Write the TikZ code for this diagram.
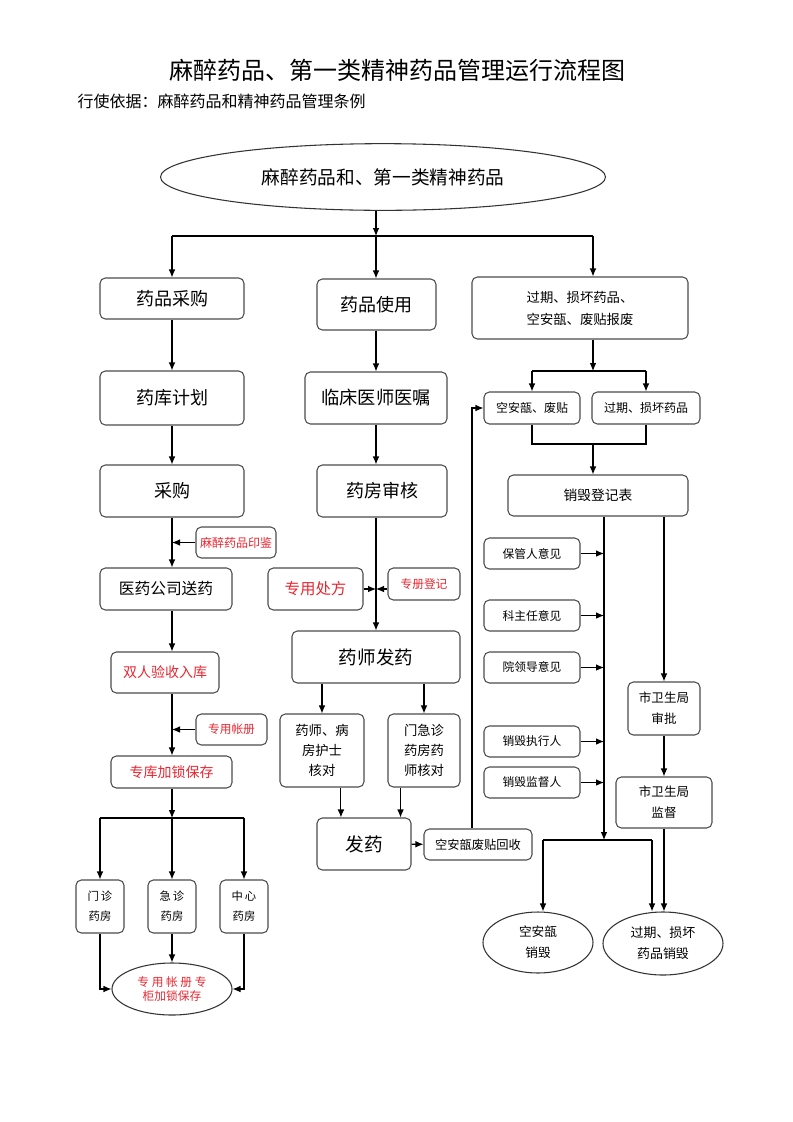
\documentclass[tikz,border=0pt]{standalone}
\usepackage{fontspec}
\setmainfont{Noto Sans CJK SC}
\usetikzlibrary{shapes.geometric,arrows.meta}
\definecolor{warnRed}{RGB}{232,38,48}
\tikzset{
  box/.style={draw=black!70, line width=0.8pt, rounded corners=4pt, align=center, inner sep=1pt},
  oval/.style={draw=black!80, line width=0.8pt, ellipse, align=center, inner sep=0pt},
  arrow/.style={-{Latex[length=6pt,width=5pt]}, line width=0.8pt},
  link/.style={line width=0.8pt},
  redtext/.style={text=warnRed},
  fs/.style 2 args={font=\fontsize{#1}{#2}\selectfont},
}
\begin{document}
\begin{tikzpicture}[x=0.75pt, y=-0.75pt]
        \useasboundingbox (0,0) rectangle (793,1122);

        % Title
        \node[fs={18}{22}] (title) at (397,70) {麻醉药品、第一类精神药品管理运行流程图};
        \node[anchor=west, fs={12}{14}] (basis) at (73,101) {行使依据：麻醉药品和精神药品管理条例};

        % Start
        \node[oval, fs={14}{16}, minimum width=333.75pt, minimum height=50pt] (source) at (383,177) {麻醉药品和、第一类精神药品};

        % Purchase column
        \node[box, fs={13.5}{16}, minimum width=108pt, minimum height=30.75pt] (buyDrug) at (172,298.5) {药品采购};
        \node[box, fs={13.5}{16}, minimum width=108pt, minimum height=40.5pt] (plan) at (172,398) {药库计划};
        \node[box, fs={13.5}{16}, minimum width=108pt, minimum height=39pt] (buy) at (172,491) {采购};
        \node[box, redtext, fs={9}{11}, minimum width=60pt, minimum height=23.25pt] (seal) at (236,542.5) {麻醉药品印鉴};
        \node[box, fs={11.8}{14}, minimum width=99pt, minimum height=31.5pt] (deliver) at (166,589) {医药公司送药};
        \node[box, redtext, fs={10.5}{13}, minimum width=81pt, minimum height=30.75pt] (accept) at (165,672.5) {双人验收入库};
        \node[box, redtext, fs={8.8}{11}, minimum width=53.25pt, minimum height=23.25pt] (ledger) at (231.5,729.5) {专用帐册};
        \node[box, redtext, fs={10.5}{13}, minimum width=90.75pt, minimum height=24pt] (store) at (171.5,772) {专库加锁保存};

        % Pharmacies
        \node[box, fs={8.5}{15}, minimum width=36pt, minimum height=39.75pt] (clinic) at (100,906.5) {门\,诊\\药房};
        \node[box, fs={8.5}{15}, minimum width=36pt, minimum height=39.75pt] (emerg) at (172,906.5) {急\,诊\\药房};
        \node[box, fs={8.5}{15}, minimum width=36pt, minimum height=39.75pt] (central) at (244,906.5) {中\,心\\药房};
        \node[oval, redtext, fs={8.8}{10.5}, minimum width=90pt, minimum height=39pt] (safe) at (172,989) {专\ 用\ 帐\ 册\ 专\\柜加锁保存};

        % Use column
        \node[box, fs={13.5}{16}, minimum width=89.25pt, minimum height=38.25pt] (useDrug) at (376.5,304.5) {药品使用};
        \node[box, fs={13.7}{16}, minimum width=106.5pt, minimum height=39pt] (order) at (376,398) {临床医师医嘱};
        \node[box, fs={13.5}{16}, minimum width=97.5pt, minimum height=39pt] (check) at (382,491) {药房审核};
        \node[box, redtext, fs={11.6}{14}, minimum width=71.25pt, minimum height=31.5pt] (rx) at (315.5,589) {专用处方};
        \node[box, redtext, fs={8.8}{11}, minimum width=54pt, minimum height=24pt] (reg) at (424,584) {专册登记};
        \node[box, fs={13.9}{16}, minimum width=126pt, minimum height=39pt] (dispense) at (376,657) {药师发药};
        \node[box, fs={10}{15}, minimum width=63pt, minimum height=54.75pt] (nurse) at (322,750.5) {药师、病\\房护士\\核对};
        \node[box, fs={10}{15}, minimum width=54pt, minimum height=54.75pt] (outCheck) at (424,750.5) {门急诊\\药房药\\师核对};
        \node[box, fs={14}{16}, minimum width=70.5pt, minimum height=39pt] (give) at (364,844) {发药};
        \node[box, fs={9.2}{11}, minimum width=81pt, minimum height=23.25pt] (recycle) at (478,844.5) {空安瓿废贴回收};

        % Scrap column
        \node[box, fs={10}{16.5}, minimum width=162pt, minimum height=46.5pt] (scrapDrug) at (580,308) {过期、损坏药品、\\空安瓿、废贴报废};
        \node[box, fs={9}{11}, minimum width=72pt, minimum height=24pt] (ampoule) at (532,408) {空安瓿、废贴};
        \node[box, fs={9}{11}, minimum width=81pt, minimum height=24pt] (expired) at (646,408) {过期、损坏药品};
        \node[box, fs={10.3}{12}, minimum width=135pt, minimum height=30.75pt] (destroyForm) at (598,495.5) {销毁登记表};
        \node[box, fs={8.8}{11}, minimum width=72pt, minimum height=23.25pt] (keeper) at (532,553.5) {保管人意见};
        \node[box, fs={8.8}{11}, minimum width=72pt, minimum height=23.25pt] (director) at (532,615.5) {科主任意见};
        \node[box, fs={8.8}{11}, minimum width=72pt, minimum height=23.25pt] (leader) at (532,667.5) {院领导意见};
        \node[box, fs={8.8}{11}, minimum width=72pt, minimum height=23.25pt] (executor) at (532,741.5) {销毁执行人};
        \node[box, fs={8.8}{11}, minimum width=72pt, minimum height=23.25pt] (supervisor) at (532,782.5) {销毁监督人};
        \node[box, fs={9.4}{15.75}, minimum width=54pt, minimum height=39.75pt] (approve) at (664,708.5) {市卫生局\\审批};
        \node[box, fs={9.4}{15.75}, minimum width=72pt, minimum height=38.25pt] (monitor) at (664,802.5) {市卫生局\\监督};
        \node[oval, fs={9.5}{15.75}, minimum width=82.5pt, minimum height=45.75pt] (ampDestroy) at (538,942.5) {空安瓿\\销毁};
        \node[oval, fs={9.7}{15.75}, minimum width=90pt, minimum height=47.25pt] (drugDestroy) at (663,943.5) {过期、损坏\\药品销毁};

        % Split from start
        \coordinate (split) at (376,236);
        \coordinate (splitR) at (593,236);
        \draw[arrow] (source.south -| split) -- (split);
        \draw[link] (split -| buyDrug) -- (splitR);
        \draw[arrow] (split -| buyDrug) -- (buyDrug);
        \draw[arrow] (split) -- (split |- useDrug.north);
        \draw[arrow] (splitR) -- (splitR |- scrapDrug.north);

        % Purchase flow
        \draw[arrow] (buyDrug) -- (plan);
        \draw[arrow] (plan) -- (buy);
        \draw[arrow] (buy.south) -- (buy.south |- deliver.north);
        \draw[arrow] (seal.west) -- (seal.west -| buy);
        \draw[arrow] (buy |- deliver.south) -- (buy |- accept.north);
        \draw[arrow] (buy |- accept.south) -- (buy |- store.north);
        \draw[arrow] (ledger.west) -- (ledger.west -| buy);
        \coordinate (split2) at (172,818);
        \draw[arrow] (buy |- store.south) -- (split2);
        \draw[link] (split2 -| clinic) -- (split2 -| central);
        \draw[arrow] (split2 -| clinic) -- (clinic);
        \draw[arrow] (split2) -- (emerg);
        \draw[arrow] (split2 -| central) -- (central);
        \draw[arrow] (clinic.south) |- (safe.west);
        \draw[arrow] (emerg) -- (safe);
        \draw[arrow] (central.south) |- (safe.east);

        % Use flow
        \draw[arrow] (order.north |- useDrug.south) -- (order.north);
        \draw[arrow] (order.south) -- (order.south |- check.north);
        \draw[arrow] (order.south |- check.south) -- (order.south |- dispense.north);
        \draw[arrow] (rx.east) -- (rx.east -| order.south);
        \draw[arrow] (reg.west |- rx.east) -- (rx.east -| order.south);
        \draw[arrow] (dispense.south -| nurse) -- (nurse);
        \draw[arrow] (dispense.south -| outCheck) -- (outCheck);
        \draw[arrow] (give.131 |- nurse.south) -- (give.131);
        \draw[arrow] (give.36 |- outCheck.south) -- (give.36);
        \draw[arrow] (give) -- (recycle);
        \draw[arrow] ([xshift=-4.5pt]recycle.north) |- (ampoule.west);

        % Scrap flow
        \coordinate (split3) at (593,371);
        \draw[arrow] (split3 |- scrapDrug.south) -- (split3);
        \draw[link] (split3 -| ampoule) -- (split3 -| expired);
        \draw[arrow] (split3 -| ampoule) -- (ampoule);
        \draw[arrow] (split3 -| expired) -- (expired);
        \coordinate (merge) at (593,444);
        \draw[link] (ampoule.south) |- (merge) -| (expired.south);
        \draw[arrow] (merge) -- (merge |- destroyForm.north);
        \coordinate (collect) at (604,840);
        \draw[arrow] (destroyForm.south -| collect) -- (collect);
        \draw[arrow] (destroyForm.south -| approve) -- (approve);
        \draw[arrow] (keeper.east) -- (keeper.east -| collect);
        \draw[arrow] (director.east) -- (director.east -| collect);
        \draw[arrow] (leader.east) -- (leader.east -| collect);
        \draw[arrow] (executor.east) -- (executor.east -| collect);
        \draw[arrow] (supervisor.east) -- (supervisor.east -| collect);
        \draw[arrow] (approve) -- (monitor);
        \draw[arrow] (monitor.south) -- (monitor.south |- drugDestroy.north);
        \coordinate (collectL) at (543,840);
        \coordinate (collectR) at (652,840);
        \draw[link] (collectL) -- (collectR);
        \draw[arrow] (collectL) -- (collectL |- ampDestroy.north);
        \draw[arrow] (collectR) -- (collectR |- drugDestroy.north);

\end{tikzpicture}
\end{document}
